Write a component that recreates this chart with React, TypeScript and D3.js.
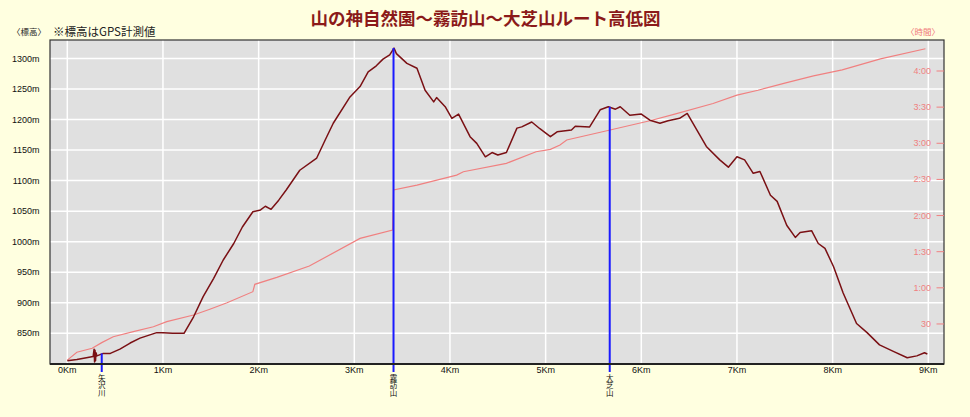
import React from "react";
import * as d3 from "d3";

const TITLE = "山の神自然園～霧訪山～大芝山ルート高低図";

// Elevation profile (distance km, elevation m)
const elevKm = [0, 0.1, 0.2, 0.27, 0.28, 0.285, 0.29, 0.295, 0.3, 0.31, 0.376, 0.45, 0.55, 0.657, 0.76, 0.935, 1.0, 1.1, 1.22, 1.32, 1.42, 1.53, 1.63, 1.74, 1.83, 1.94, 2.02, 2.07, 2.13, 2.21, 2.29, 2.43, 2.607, 2.697, 2.78, 2.955, 3.06, 3.145, 3.23, 3.3, 3.37, 3.415, 3.44, 3.55, 3.655, 3.74, 3.83, 3.86, 3.95, 4.02, 4.09, 4.21, 4.28, 4.37, 4.44, 4.5, 4.59, 4.7, 4.75, 4.855, 4.94, 5.05, 5.12, 5.27, 5.31, 5.46, 5.57, 5.655, 5.73, 5.78, 5.88, 6.0, 6.09, 6.195, 6.28, 6.4, 6.48, 6.58, 6.68, 6.82, 6.91, 7.0, 7.08, 7.17, 7.24, 7.35, 7.42, 7.52, 7.61, 7.66, 7.78, 7.85, 7.92, 8.01, 8.11, 8.25, 8.36, 8.49, 8.64, 8.78, 8.88, 8.96, 8.99];
const elevM = [805, 807, 810, 812, 824, 803, 822, 805, 818, 813, 817, 817, 824, 834, 842, 851, 851, 850, 850, 877, 910, 940, 970, 997, 1024, 1049, 1052, 1058, 1053, 1068, 1085, 1117, 1137, 1167, 1194, 1237, 1254, 1278, 1288, 1299, 1306, 1317, 1308, 1292, 1284, 1248, 1229, 1236, 1221, 1202, 1209, 1172, 1161, 1139, 1146, 1142, 1146, 1186, 1188, 1196, 1185, 1172, 1180, 1183, 1189, 1188, 1216, 1221, 1217, 1221, 1207, 1209, 1199, 1194, 1198, 1202, 1210, 1183, 1156, 1134, 1122, 1139, 1134, 1112, 1115, 1076, 1066, 1027, 1007, 1015, 1018, 997, 989, 959, 916, 866, 851, 831, 820, 810, 813, 818, 816];

// Elapsed time (distance km, minutes)
const timeKm = [0, 0.1, 0.26, 0.36, 0.48, 0.69, 0.9, 1.04, 1.32, 1.49, 1.67, 1.94, 1.96, 2.19, 2.53, 3.06, 3.4, 3.41, 3.655, 4.07, 4.14, 4.59, 4.9, 5.05, 5.15, 5.22, 5.64, 6.09, 6.34, 6.75, 7.0, 7.22, 7.5, 7.8, 8.1, 8.5, 8.97];
const timeMin = [0, 6.5, 9.8, 14.5, 19.4, 23.6, 27.7, 31.9, 37.4, 42.2, 47.6, 56.8, 62.9, 68.7, 78.1, 101, 108, 141.2, 145.3, 153.6, 156.4, 163.3, 173, 175, 178.5, 182.7, 190.4, 198.7, 204, 213, 220, 224, 230, 236, 241, 250, 258.5];

// Landmarks
const markerNames = ["矢沢川", "霧訪山", "大芝山"];
const markerKm = [0.36, 3.41, 5.67];
const markerTopM = [817, 1317, 1221];

// Axes
const kmTicks = [0, 1, 2, 3, 4, 5, 6, 7, 8, 9];
const elevTicks = [850, 900, 950, 1000, 1050, 1100, 1150, 1200, 1250, 1300];
const timeTicks = [30, 60, 90, 120, 150, 180, 210, 240];
const timeTickLabels = ["30", "1:00", "1:30", "2:00", "2:30", "3:00", "3:30", "4:00"];

const W = 970;
const H = 417;
const PL = 50, PR = 944, PT = 40, PB = 364;

export default function App() {
  const x = d3.scaleLinear().domain([0, 9]).range([67.3, 928.3]);
  const y = d3.scaleLinear().domain([800, 1300]).range([363.8, 58.5]);
  const yt = d3.scaleLinear().domain([0, 240]).range([360.1, 71]);

  const elevLine = d3.line<number>().x((_, i) => x(elevKm[i])).y((d) => y(d));
  const timeLine = d3.line<number>().x((_, i) => x(timeKm[i])).y((d) => yt(d));

  const latin = "'Liberation Sans', Arial, sans-serif";
  const cjk = "'Noto Sans CJK JP', sans-serif";

  return (
    <svg width={W} height={H} style={{ position: "absolute", left: 0, top: 0 }}>
      <rect x={0} y={0} width={W} height={H} fill="#ffffe0" />
      <text x={485.5} y={25} textAnchor="middle" fontFamily={cjk} fontWeight="bold" fontSize={17.5} fill="#8b1a1a">
        {TITLE}
      </text>
      <text x={12} y={35} fontFamily={cjk} fontSize={8.5} fill="#222">〈標高〉</text>
      <text x={53} y={36} fontFamily={cjk} fontSize={11.5} fill="#222">※標高はGPS計測値</text>
      <text x={940} y={35} textAnchor="end" fontFamily={cjk} fontSize={8.5} fill="#f07878">〈時間〉</text>

      <rect x={PL} y={PT} width={PR - PL} height={PB - PT} fill="#e0e0e0" />
      {elevTicks.map((t) => (
        <line key={"hg" + t} x1={PL} x2={PR} y1={y(t)} y2={y(t)} stroke="#ffffff" strokeWidth={1.5} />
      ))}
      {kmTicks.map((t) => (
        <line key={"vg" + t} x1={x(t)} x2={x(t)} y1={PT} y2={PB} stroke="#ffffff" strokeWidth={1.5} />
      ))}

      <path d={timeLine(timeMin) || ""} fill="none" stroke="#f08080" strokeWidth={1.2} />
      <path d={elevLine(elevM) || ""} fill="none" stroke="#7a1014" strokeWidth={1.5} strokeLinejoin="round" />

      {markerKm.map((k, i) => (
        <line key={"mk" + i} x1={x(k)} x2={x(k)} y1={y(markerTopM[i])} y2={372} stroke="#1a1aff" strokeWidth={2} />
      ))}

      <rect x={PL} y={PT} width={PR - PL} height={PB - PT} fill="none" stroke="#333" strokeWidth={1.2} />
      <line x1={PL} x2={PR} y1={PB} y2={PB} stroke="#222" strokeWidth={2} />

      {elevTicks.map((t) => (
        <text key={"yl" + t} x={39.5} y={y(t) + 3} textAnchor="end" fontFamily={latin} fontSize={9} fill="#111">
          {t}m
        </text>
      ))}
      {kmTicks.map((t) => (
        <text key={"xl" + t} x={x(t)} y={373} textAnchor="middle" fontFamily={latin} fontSize={9} fill="#111">
          {t}Km
        </text>
      ))}
      {timeTicks.map((t, i) => (
        <g key={"tl" + t}>
          <line x1={936.5} x2={PR} y1={yt(t)} y2={yt(t)} stroke="#f08080" strokeWidth={1} />
          <text x={931} y={yt(t) + 3} textAnchor="end" fontFamily={latin} fontSize={9} fill="#f08080">
            {timeTickLabels[i]}
          </text>
        </g>
      ))}

      {markerNames.map((name, i) => (
        <text
          key={"mn" + i}
          x={x(markerKm[i])}
          y={374}
          fontFamily={cjk}
          fontSize={7.5}
          fill="#111"
          style={{ writingMode: "vertical-rl" }}
        >
          {name}
        </text>
      ))}
    </svg>
  );
}
